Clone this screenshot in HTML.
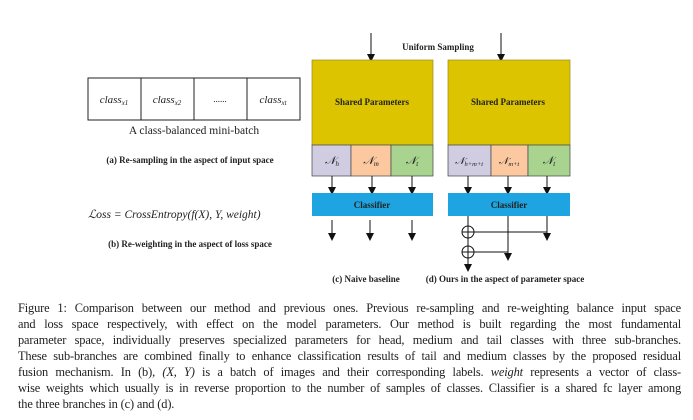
<!DOCTYPE html>
<html><head><meta charset="utf-8"><style>
html,body{margin:0;padding:0;background:#fff;width:693px;height:420px;overflow:hidden}
.cap{position:absolute;left:18px;width:663px;font-family:"Liberation Serif",serif;font-size:12.4px;color:#222;letter-spacing:-0.15px}
.cap div{height:16px;line-height:16px;text-align:justify;text-align-last:justify;white-space:nowrap}
.cap div.last{text-align-last:left}
</style></head><body>
<svg width="693" height="420" style="position:absolute;left:0;top:0" font-family="Liberation Serif, serif">
<defs><marker id="a" markerWidth="8" markerHeight="8" refX="4" refY="4" orient="auto" markerUnits="userSpaceOnUse"><path d="M0,0 L8,4 L0,8 z" fill="#111"/></marker></defs>
<rect x="88" y="78" width="212" height="42" fill="#fff" stroke="#222" stroke-width="1"/>
<line x1="141" y1="78" x2="141" y2="120" stroke="#222"/><line x1="194" y1="78" x2="194" y2="120" stroke="#222"/><line x1="247" y1="78" x2="247" y2="120" stroke="#222"/>
<g font-style="italic" font-size="11" fill="#222" text-anchor="middle">
<text x="114" y="103">class<tspan font-size="7" dy="2">x1</tspan></text>
<text x="167" y="103">class<tspan font-size="7" dy="2">x2</tspan></text>
<text x="220" y="102" font-style="normal" font-size="9">......</text>
<text x="273" y="103">class<tspan font-size="7" dy="2">xt</tspan></text>
</g>
<text x="194" y="134" font-size="11.5" text-anchor="middle" fill="#222">A class-balanced mini-batch</text>
<text x="190" y="163" font-size="9" font-weight="bold" text-anchor="middle" fill="#222">(a) Re-sampling in the aspect of input space</text>
<text x="88" y="218" font-size="11.5" font-style="italic" fill="#222">ℒoss = CrossEntropy(f(X), Y, weight)</text>
<text x="190" y="247" font-size="9" font-weight="bold" text-anchor="middle" fill="#222">(b) Re-weighting in the aspect of loss space</text>
<text x="438" y="50" font-size="9" font-weight="bold" text-anchor="middle" fill="#222">Uniform Sampling</text>
<line x1="371" y1="33" x2="371" y2="58" stroke="#111" marker-end="url(#a)"/>
<line x1="501" y1="33" x2="501" y2="58" stroke="#111" marker-end="url(#a)"/>
<rect x="312" y="60" width="121" height="85" fill="#dcc400" stroke="#9a8a20" stroke-width="0.7"/>
<text x="372" y="105" font-size="9" font-weight="bold" text-anchor="middle" fill="#222">Shared Parameters</text>
<rect x="312" y="145" width="39" height="31" fill="#d0cde2" stroke="#444" stroke-width="0.7"/>
<rect x="351" y="145" width="40" height="31" fill="#fbc8a0" stroke="#444" stroke-width="0.7"/>
<rect x="391" y="145" width="42" height="31" fill="#a8d490" stroke="#444" stroke-width="0.7"/>
<g font-style="italic" font-size="11" text-anchor="middle" fill="#222">
<text x="332" y="164">𝒩<tspan font-size="7" dy="2">h</tspan></text>
<text x="371" y="164">𝒩<tspan font-size="7" dy="2">m</tspan></text>
<text x="412" y="164">𝒩<tspan font-size="7" dy="2">t</tspan></text>
</g>
<line x1="332" y1="176" x2="332" y2="191" stroke="#111" marker-end="url(#a)"/>
<line x1="372" y1="176" x2="372" y2="191" stroke="#111" marker-end="url(#a)"/>
<line x1="412" y1="176" x2="412" y2="191" stroke="#111" marker-end="url(#a)"/>
<rect x="312" y="193" width="121" height="23" fill="#1ea4e0"/>
<text x="372" y="208" font-size="9" font-weight="bold" text-anchor="middle" fill="#222">Classifier</text>
<line x1="332" y1="220" x2="332" y2="237" stroke="#111" marker-end="url(#a)"/>
<line x1="370" y1="220" x2="370" y2="237" stroke="#111" marker-end="url(#a)"/>
<line x1="412" y1="220" x2="412" y2="237" stroke="#111" marker-end="url(#a)"/>
<rect x="448" y="60" width="122" height="85" fill="#dcc400" stroke="#9a8a20" stroke-width="0.7"/>
<text x="508" y="105" font-size="9" font-weight="bold" text-anchor="middle" fill="#222">Shared Parameters</text>
<rect x="448" y="145" width="43" height="31" fill="#d0cde2" stroke="#444" stroke-width="0.7"/>
<rect x="491" y="145" width="37" height="31" fill="#fbc8a0" stroke="#444" stroke-width="0.7"/>
<rect x="528" y="145" width="42" height="31" fill="#a8d490" stroke="#444" stroke-width="0.7"/>
<g font-style="italic" font-size="10" text-anchor="middle" fill="#222">
<text x="469" y="164">𝒩<tspan font-size="6.5" dy="2">h+m+t</tspan></text>
<text x="509" y="164">𝒩<tspan font-size="6.5" dy="2">m+t</tspan></text>
<text x="549" y="164" font-size="11">𝒩<tspan font-size="7" dy="2">t</tspan></text>
</g>
<line x1="468" y1="176" x2="468" y2="191" stroke="#111" marker-end="url(#a)"/>
<line x1="508" y1="176" x2="508" y2="191" stroke="#111" marker-end="url(#a)"/>
<line x1="547" y1="176" x2="547" y2="191" stroke="#111" marker-end="url(#a)"/>
<rect x="448" y="193" width="122" height="23" fill="#1ea4e0"/>
<text x="509" y="208" font-size="9" font-weight="bold" text-anchor="middle" fill="#222">Classifier</text>
<line x1="468" y1="216" x2="468" y2="268" stroke="#111" marker-end="url(#a)"/>
<circle cx="468" cy="232" r="6" fill="none" stroke="#111"/><line x1="462" y1="232" x2="474" y2="232" stroke="#111"/>
<circle cx="468" cy="252" r="6" fill="none" stroke="#111"/><line x1="462" y1="252" x2="474" y2="252" stroke="#111"/>
<line x1="474" y1="232" x2="547" y2="232" stroke="#111"/>
<line x1="547" y1="216" x2="547" y2="237" stroke="#111" marker-end="url(#a)"/>
<line x1="474" y1="252" x2="508" y2="252" stroke="#111"/>
<line x1="508" y1="216" x2="508" y2="257" stroke="#111" marker-end="url(#a)"/>
<text x="366" y="282" font-size="9" font-weight="bold" text-anchor="middle" fill="#222">(c) Naive baseline</text>
<text x="505" y="282" font-size="9" font-weight="bold" text-anchor="middle" fill="#222">(d) Ours in the aspect of parameter space</text>
</svg>
<div class="cap" style="top:300px">
<div>Figure 1: Comparison between our method and previous ones. Previous re-sampling and re-weighting balance input space</div>
<div>and loss space respectively, with effect on the model parameters. Our method is built regarding the most fundamental</div>
<div>parameter space, individually preserves specialized parameters for head, medium and tail classes with three sub-branches.</div>
<div>These sub-branches are combined finally to enhance classification results of tail and medium classes by the proposed residual</div>
<div>fusion mechanism. In (b), <i>(X, Y)</i> is a batch of images and their corresponding labels. <i>weight</i> represents a vector of class-</div>
<div>wise weights which usually is in reverse proportion to the number of samples of classes. Classifier is a shared fc layer among</div>
<div class="last">the three branches in (c) and (d).</div>
</div>
</body></html>
